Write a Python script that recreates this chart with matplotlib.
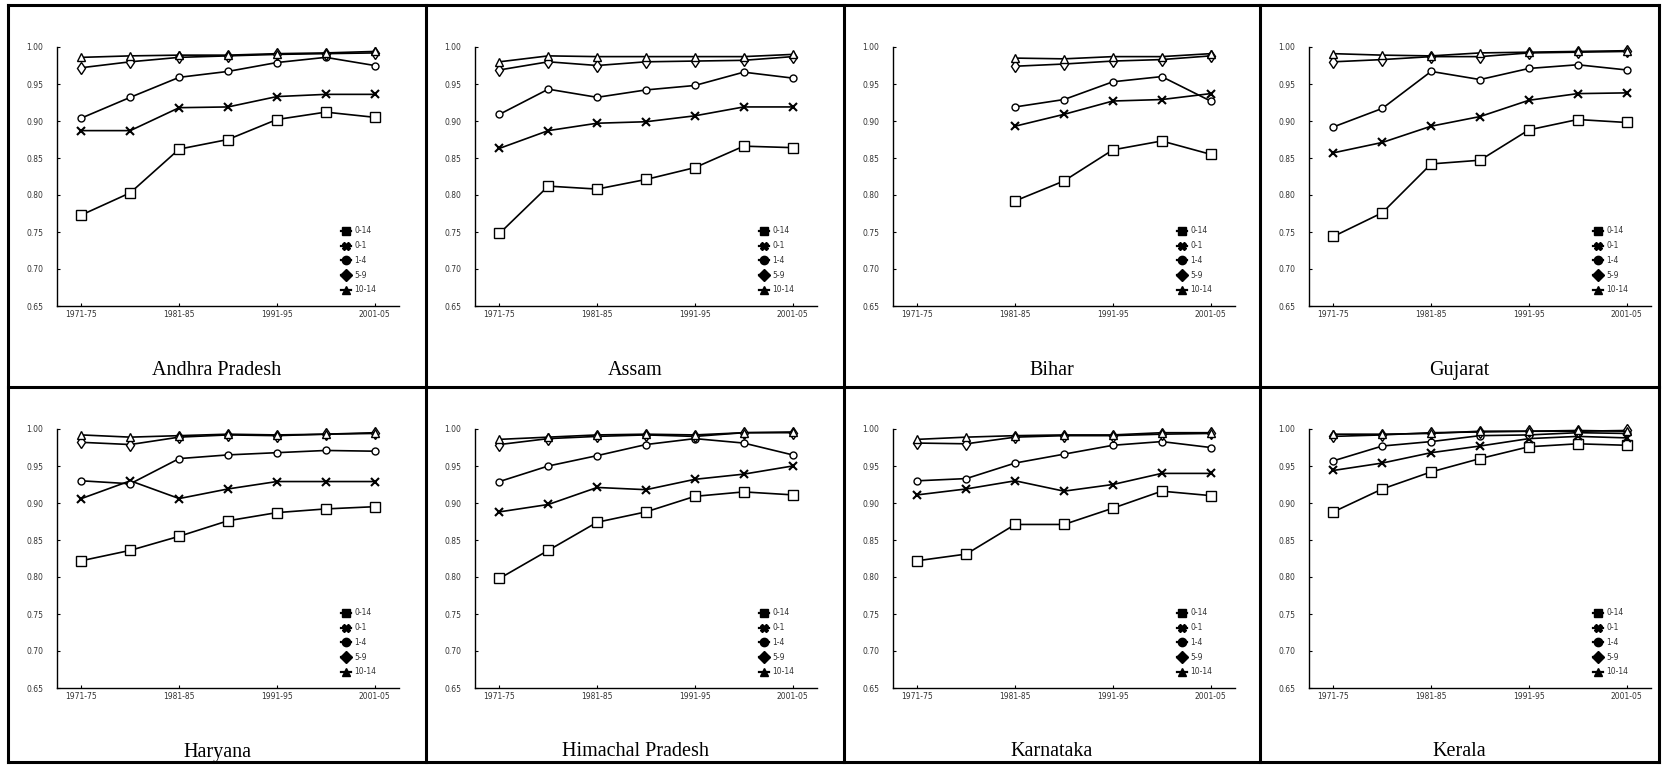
import numpy as np
import matplotlib.pyplot as plt
from matplotlib.lines import Line2D

periods = ['1971-75', '1976-80', '1981-85', '1986-90', '1991-95', '1996-00', '2001-05']
tick_labels = ['1971-75', '1981-85', '1991-95', '2001-05']
states = ['Andhra Pradesh', 'Assam', 'Bihar', 'Gujarat',
          'Haryana', 'Himachal Pradesh', 'Karnataka', 'Kerala']
age_groups = ['0-14', '0-1', '1-4', '5-9', '10-14']
nan = np.nan

# one row per state, one value per period
age_0_14 = [
    [0.773, 0.803, 0.862, 0.875, 0.902, 0.912, 0.905],
    [0.748, 0.812, 0.808, 0.821, 0.837, 0.866, 0.864],
    [nan, nan, 0.792, 0.819, 0.861, 0.873, 0.855],
    [0.744, 0.776, 0.842, 0.847, 0.888, 0.902, 0.898],
    [0.822, 0.836, 0.855, 0.876, 0.887, 0.892, 0.895],
    [0.798, 0.836, 0.874, 0.888, 0.909, 0.915, 0.911],
    [0.822, 0.831, 0.871, 0.871, 0.893, 0.916, 0.910],
    [0.888, 0.919, 0.942, 0.960, 0.976, 0.980, 0.978],
]
age_0_1 = [
    [0.887, 0.887, 0.918, 0.919, 0.933, 0.936, 0.936],
    [0.863, 0.887, 0.897, 0.899, 0.907, 0.919, 0.919],
    [nan, nan, 0.893, 0.909, 0.927, 0.929, 0.937],
    [0.857, 0.871, 0.893, 0.906, 0.928, 0.937, 0.938],
    [0.906, 0.930, 0.906, 0.919, 0.929, 0.929, 0.929],
    [0.888, 0.898, 0.921, 0.918, 0.932, 0.939, 0.950],
    [0.911, 0.919, 0.930, 0.916, 0.925, 0.940, 0.940],
    [0.944, 0.954, 0.968, 0.977, 0.987, 0.990, 0.988],
]
age_1_4 = [
    [0.904, 0.932, 0.959, 0.967, 0.979, 0.986, 0.975],
    [0.909, 0.943, 0.932, 0.942, 0.948, 0.966, 0.958],
    [nan, nan, 0.919, 0.929, 0.953, 0.960, 0.927],
    [0.892, 0.917, 0.967, 0.956, 0.971, 0.976, 0.969],
    [0.930, 0.926, 0.960, 0.965, 0.968, 0.971, 0.970],
    [0.929, 0.950, 0.964, 0.979, 0.987, 0.981, 0.965],
    [0.930, 0.933, 0.954, 0.966, 0.978, 0.983, 0.975],
    [0.957, 0.977, 0.983, 0.991, 0.992, 0.995, 0.994],
]
age_5_9 = [
    [0.972, 0.980, 0.986, 0.988, 0.990, 0.991, 0.992],
    [0.969, 0.980, 0.975, 0.980, 0.981, 0.982, 0.987],
    [nan, nan, 0.974, 0.977, 0.981, 0.983, 0.988],
    [0.980, 0.983, 0.987, 0.987, 0.992, 0.993, 0.994],
    [0.982, 0.979, 0.989, 0.992, 0.991, 0.993, 0.994],
    [0.979, 0.987, 0.990, 0.992, 0.990, 0.995, 0.995],
    [0.981, 0.980, 0.989, 0.991, 0.991, 0.993, 0.994],
    [0.990, 0.992, 0.995, 0.996, 0.997, 0.997, 0.998],
]
age_10_14 = [
    [0.986, 0.988, 0.989, 0.989, 0.991, 0.992, 0.994],
    [0.980, 0.988, 0.987, 0.987, 0.987, 0.987, 0.990],
    [nan, nan, 0.985, 0.984, 0.987, 0.987, 0.991],
    [0.991, 0.989, 0.988, 0.992, 0.993, 0.994, 0.995],
    [0.992, 0.989, 0.991, 0.993, 0.992, 0.993, 0.995],
    [0.986, 0.989, 0.992, 0.993, 0.992, 0.995, 0.996],
    [0.986, 0.989, 0.991, 0.992, 0.992, 0.995, 0.995],
    [0.993, 0.993, 0.994, 0.997, 0.997, 0.998, 0.997],
]

series = [age_0_14, age_0_1, age_1_4, age_5_9, age_10_14]
markers = ['s', 'x', 'o', 'd', '^']
msizes = [7.5, 6, 5, 6, 5.5]
legend_markers = ['s', 'X', 'o', 'D', '^']

W, H = 1662, 765
fig = plt.figure(figsize=(W / 100, H / 100), dpi=100)

# table grid (pixels)
xs = [8, 426, 844, 1260, 1659]
ys = [5, 387, 762]

for y in ys:
    fig.add_artist(Line2D([xs[0] / W, xs[-1] / W], [1 - y / H, 1 - y / H],
                          color='black', lw=2.2, transform=fig.transFigure))
for x in xs:
    fig.add_artist(Line2D([x / W, x / W], [1 - ys[0] / H, 1 - ys[-1] / H],
                          color='black', lw=2.2, transform=fig.transFigure))

x = np.arange(len(periods))

for k, state in enumerate(states):
    r, c = divmod(k, 4)
    cl, ct = xs[c], ys[r]
    ax = fig.add_axes([(cl + 49) / W, 1 - (ct + 42 + 259) / H, 342 / W, 259 / H])

    for s, m, ms in zip(series, markers, msizes):
        vals = np.array(s[k])
        if m == 'x':
            ax.plot(x, vals, color='black', lw=1.2, marker=m, ms=ms, mew=1.5,
                    clip_on=False)
        else:
            ax.plot(x, vals, color='black', lw=1.2, marker=m, ms=ms, mew=1.0,
                    mfc='white', mec='black', clip_on=False)

    ax.set_xlim(-0.5, 6.5)
    ax.set_ylim(0.65, 1.0)
    ax.set_xticks([0, 2, 4, 6])
    ax.set_xticklabels(tick_labels)
    ax.set_yticks(np.arange(0.65, 1.001, 0.05))
    ax.set_yticklabels([f'{v:.2f}' for v in np.arange(0.65, 1.001, 0.05)])
    ax.tick_params(axis='both', labelsize=5.5, labelcolor='#333333',
                   direction='in', length=2, width=0.8)
    ax.tick_params(axis='y', pad=10)
    ax.tick_params(axis='x', pad=3)
    for side in ['top', 'right']:
        ax.spines[side].set_visible(False)
    for side in ['left', 'bottom']:
        ax.spines[side].set_linewidth(1.0)

    handles = [Line2D([], [], color='black', lw=1.6, marker=m, ms=6,
                      mfc='black', mec='black') for m in legend_markers]
    ax.legend(handles, age_groups, loc='lower left', bbox_to_anchor=(0.82, 0.03),
              frameon=False, fontsize=5.5, handlelength=1.3, handletextpad=0.4,
              labelspacing=0.75, borderpad=0, labelcolor='#333333')

    fig.text((cl + (xs[c + 1] - cl) / 2) / W, 1 - (ct + 365) / H, state,
             ha='center', va='center', fontsize=14.5, family='Liberation Serif')

fig.savefig('out.png', dpi=100)
